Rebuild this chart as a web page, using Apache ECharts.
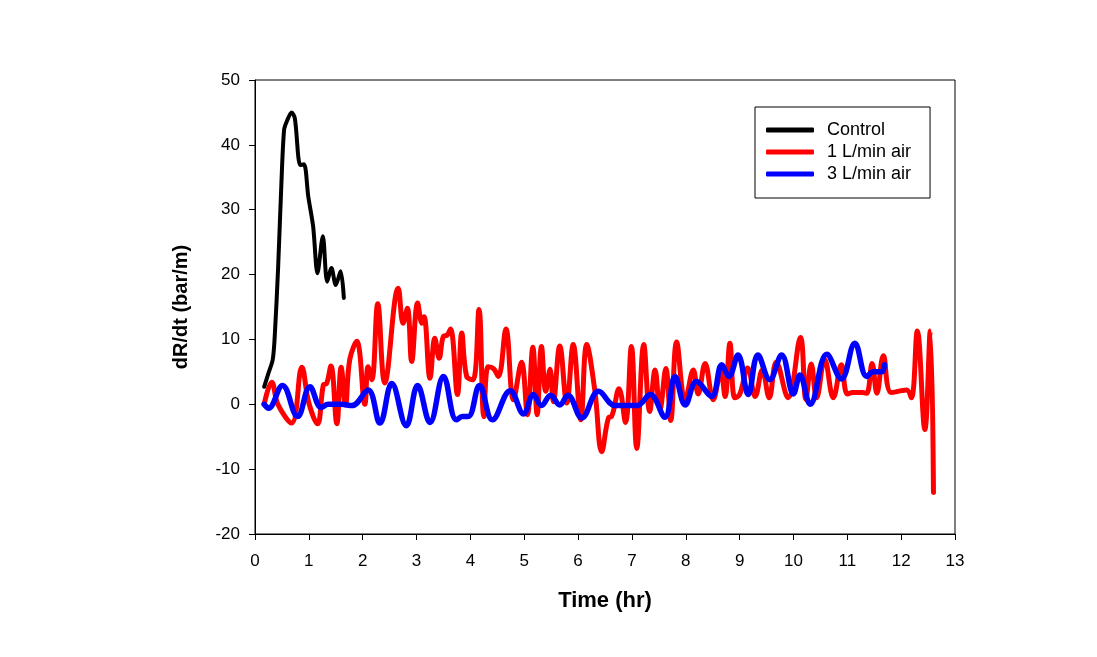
<!DOCTYPE html>
<html>
<head>
<meta charset="utf-8">
<script src="https://cdn.jsdelivr.net/npm/echarts@6/dist/echarts.min.js"></script>
<style>
html,body{margin:0;padding:0;background:#fff;}
#chart{width:1097px;height:657px;}
</style>
</head>
<body>
<div id="chart"></div>
<script>
// ---- data ----
var seriesNames = ['Control', '1 L/min air', '3 L/min air'];

var controlTime = [0.17,0.25,0.33,0.37,0.43,0.49,0.54,0.59,0.68,0.74,0.84,0.91,0.99,1.08,1.16,1.26,1.34,1.42,1.50,1.59,1.65];
var controlRate = [2.7,4.8,6.9,11,21.2,34,42.3,43.6,45,44.1,36.9,37,32,27.4,20.2,25.9,18.9,21,18.4,20.5,16.4];

var air1Time = [0.17,0.31,0.43,0.68,0.87,1.00,1.16,1.27,1.33,1.41,1.52,1.60,1.68,1.76,1.89,2.04,2.10,2.17,2.28,2.41,2.66,2.75,2.83,2.91,3.02,3.10,3.14,3.25,3.34,3.42,3.50,3.56,3.63,3.76,3.84,3.93,4.05,4.16,4.25,4.33,4.43,4.52,4.66,4.80,4.95,5.06,5.16,5.24,5.32,5.40,5.48,5.54,5.66,5.79,5.91,6.05,6.16,6.31,6.44,6.57,6.62,6.76,6.88,6.99,7.09,7.22,7.33,7.43,7.52,7.63,7.72,7.83,7.99,8.14,8.23,8.36,8.51,8.65,8.73,8.82,8.91,9.00,9.15,9.29,9.42,9.55,9.68,9.90,10.13,10.23,10.33,10.43,10.58,10.74,10.89,11.00,11.10,11.28,11.36,11.46,11.55,11.67,11.82,12.10,12.19,12.30,12.44,12.54,12.60];
var air1Rate = [0,3.4,-0.1,-2.9,5.7,0.2,-3,3,3.2,5.9,-3,5.7,-0.1,6.9,9.7,0,5.8,3.8,15.5,3.3,17.9,12.5,14.8,6.6,15.6,12.5,13.5,4,10.2,7.1,10.5,10.6,11.6,1.5,11,4.3,3.8,14.6,-1.9,5.8,5.5,4.3,11.6,0.7,6.5,-1.6,8.8,-1.6,8.9,2,5.4,0.4,9,0.2,9.2,-2.4,9.2,2.2,-7.3,-2,-1.9,2.4,-2.8,8.9,-6.8,9.2,-1.1,5.3,-0.8,5.5,-2.5,9.6,0.5,5.3,1.6,6.3,0.7,5,1.2,9.4,1,1.5,5.6,1.2,5.3,1,6.5,1,10.3,0.8,6.2,1,6.9,1,6.1,1.6,1.8,1.8,1.7,6.3,1.7,7.5,1.8,2.2,1,11.3,-3.9,11.3,-13.6];

var air3Time = [0.17,0.25,0.51,0.79,1.02,1.23,1.36,1.60,1.80,2.10,2.32,2.54,2.81,3.02,3.25,3.50,3.74,3.85,3.96,4.17,4.41,4.74,4.99,5.17,5.32,5.49,5.66,5.81,6.07,6.38,6.69,7.09,7.34,7.61,7.80,7.99,8.20,8.48,8.67,8.80,8.97,9.16,9.34,9.56,9.78,10.00,10.12,10.31,10.62,10.89,11.14,11.36,11.48,11.64,11.69];
var air3Rate = [0,-0.6,2.9,-1.9,2.7,-0.5,0,0,-0.2,2.2,-2.9,3.2,-3.3,2.9,-2.8,4.3,-2.4,-1.9,-1.9,2.9,-2.4,2.1,-1.5,1.5,-0.2,1.4,-0.1,1.4,-2.1,2,-0.2,-0.2,1.5,-2,4.3,-0.1,3.5,1.2,6.1,4.3,7.6,1.5,7.6,3.8,7.6,1.6,4.5,0,7.7,3.9,9.4,4.3,5,5,6.1];

var yTicks = {min: -20, max: 50, step: 10};
var xTicks = {min: 0, max: 13, step: 1};

function pairs(xs, ys) {
  var out = [];
  for (var i = 0; i < xs.length; i++) out.push([xs[i], ys[i]]);
  return out;
}

var FONT = '"Liberation Sans", Arial, sans-serif';
var chart = echarts.init(document.getElementById('chart'), null, {renderer: 'canvas'});
chart.setOption({
  animation: false,
  backgroundColor: '#fff',
  grid: {
    left: 255, right: 142, top: 80, bottom: 123,
    show: true, borderColor: '#000', borderWidth: 1,
    containLabel: false, outerBoundsMode: 'none'
  },
  legend: {
    orient: 'vertical',
    left: 755, top: 107,
    data: seriesNames,
    backgroundColor: '#fff',
    borderColor: '#000', borderWidth: 1,
    padding: [14, 19, 15, 11],
    itemWidth: 48, itemHeight: 5, itemGap: 4,
    icon: 'roundRect',
    textStyle: {fontFamily: FONT, fontSize: 18, color: '#000', padding: [0, 0, 0, 8]}
  },
  xAxis: {
    type: 'value',
    min: xTicks.min, max: xTicks.max, interval: xTicks.step,
    name: 'Time (hr)', nameLocation: 'middle', nameGap: 56,
    nameTextStyle: {fontFamily: FONT, fontSize: 22, fontWeight: 'bold', color: '#000'},
    axisLine: {show: true, onZero: false, lineStyle: {color: '#000', width: 1}},
    axisTick: {show: true, length: 6, inside: false, lineStyle: {color: '#000'}},
    axisLabel: {fontFamily: FONT, fontSize: 17, color: '#000', margin: 19},
    splitLine: {show: false}
  },
  yAxis: {
    type: 'value',
    min: yTicks.min, max: yTicks.max, interval: yTicks.step,
    name: 'dR/dt (bar/m)', nameLocation: 'middle', nameGap: 64, nameRotate: 90,
    nameTextStyle: {fontFamily: FONT, fontSize: 20, fontWeight: 'bold', color: '#000'},
    axisLine: {show: true, onZero: false, lineStyle: {color: '#000', width: 1}},
    axisTick: {show: true, length: 6, inside: false, lineStyle: {color: '#000'}},
    axisLabel: {fontFamily: FONT, fontSize: 17, color: '#000', margin: 15},
    splitLine: {show: false}
  },
  series: [
    {
      name: seriesNames[1], type: 'line', z: 2, smooth: 0.4,
      showSymbol: false, symbol: 'none',
      data: pairs(air1Time, air1Rate),
      itemStyle: {color: '#ff0000'},
      lineStyle: {color: '#ff0000', width: 5, cap: 'round', join: 'round'}
    },
    {
      name: seriesNames[2], type: 'line', z: 3, smooth: 0.4,
      showSymbol: false, symbol: 'none',
      data: pairs(air3Time, air3Rate),
      itemStyle: {color: '#0000ff'},
      lineStyle: {color: '#0000ff', width: 5.5, cap: 'round', join: 'round'}
    },
    {
      name: seriesNames[0], type: 'line', z: 4, smooth: 0.3,
      showSymbol: false, symbol: 'none',
      data: pairs(controlTime, controlRate),
      itemStyle: {color: '#000000'},
      lineStyle: {color: '#000000', width: 4, cap: 'round', join: 'round'}
    }
  ]
});
</script>
</body>
</html>
